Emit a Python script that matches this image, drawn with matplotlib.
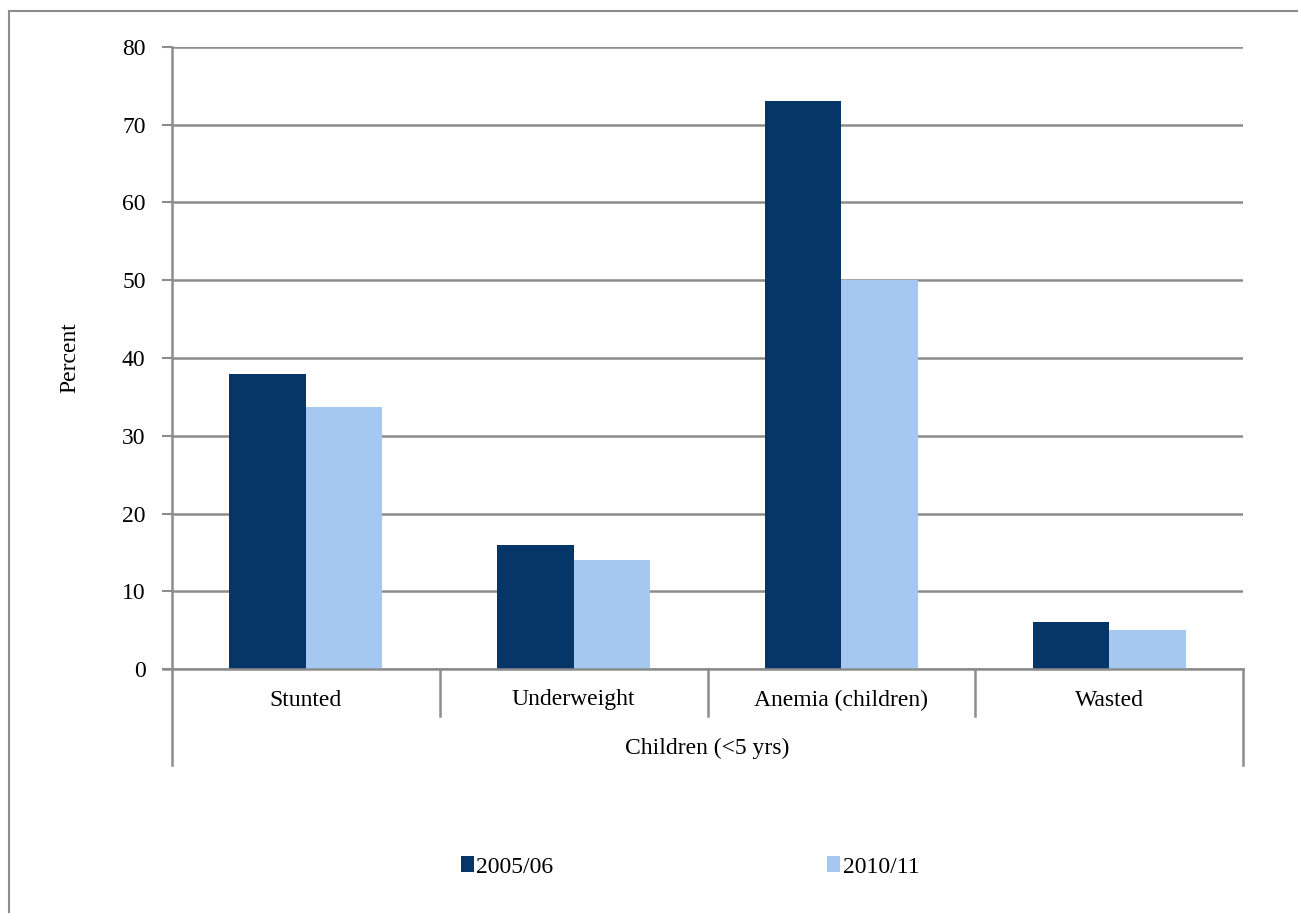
import matplotlib
matplotlib.use("Agg")
import matplotlib.pyplot as plt
import matplotlib.transforms as mtransforms
from matplotlib.patches import Patch
import numpy as np

categories = ["Stunted", "Underweight", "Anemia (children)", "Wasted"]
series_names = ["2005/06", "2010/11"]
values_2005 = [38, 16, 73, 6]
values_2010 = [33.7, 14, 50, 5]
group_label = "Children (<5 yrs)"
yticks = [0, 10, 20, 30, 40, 50, 60, 70, 80]

dark = "#063668"
light = "#A5C8F0"
grid_c = "#8c8c8c"
FS = 17

plt.rcParams["font.family"] = ["Liberation Serif", "DejaVu Serif"]

W, H = 1298, 913
fig = plt.figure(figsize=(W / 100, H / 100), dpi=100)
ax = fig.add_axes([172 / W, 1 - 669 / H, (1243 - 172) / W, (669 - 47) / H])

x = np.arange(len(categories))
w = 1 / 3.5
ax.bar(x - w / 2, values_2005, width=w, color=dark, zorder=3)
ax.bar(x + w / 2, values_2010, width=w, color=light, zorder=3)

ax.set_xlim(-0.5, len(categories) - 0.5)
ax.set_ylim(0, 80)
ax.set_yticks(yticks)
ax.set_yticklabels([str(t) for t in yticks], fontsize=FS)
ax.yaxis.grid(True, color=grid_c, linewidth=1.8, zorder=0)
ax.tick_params(axis="y", length=7, width=1.5, color=grid_c, pad=12)
ax.tick_params(axis="x", length=0)
ax.set_xticks([])
for s in ["top", "right", "bottom"]:
    ax.spines[s].set_visible(False)
ax.spines["left"].set_color(grid_c)
ax.spines["left"].set_linewidth(1.8)

ax.set_ylabel("Percent", fontsize=FS, labelpad=30)

# multi-level category axis
trans = mtransforms.blended_transform_factory(ax.transData, ax.transAxes)
y_cat = -(716 - 669) / 622
y_grp = -(765 - 669) / 622
lk = dict(color=grid_c, linewidth=1.8, clip_on=False, transform=trans, zorder=4)
ax.plot([-0.5 - 9 / 267.75, len(categories) - 0.5], [0, 0], **lk)
ax.plot([-0.5, -0.5], [0, y_grp], **lk)
ax.plot([len(categories) - 0.5, len(categories) - 0.5], [0, y_grp], **lk)
for b in np.arange(0.5, len(categories) - 0.5, 1):
    ax.plot([b, b], [0, y_cat], **lk)
for i, c in enumerate(categories):
    ax.text(i, -(700 - 669) / 622, c, transform=trans, ha="center", va="center", fontsize=FS)
ax.text((len(categories) - 1) / 2, -(748 - 669) / 622, group_label, transform=trans,
        ha="center", va="center", fontsize=FS)

# legend
handles = [Patch(facecolor=dark), Patch(facecolor=light)]
fig.legend(handles, series_names, loc="center", bbox_to_anchor=(690 / W, 1 - 867 / H),
           ncol=2, frameon=False, fontsize=FS, handlelength=0.55, handleheight=0.65,
           handletextpad=0.1, columnspacing=11.6)

# outer frame (left and top)
fig.add_artist(plt.Line2D([8.5 / W, 8.5 / W], [0, 1 - 11 / H], color=grid_c, linewidth=1.5,
                          transform=fig.transFigure))
fig.add_artist(plt.Line2D([8.5 / W, 1], [1 - 11 / H, 1 - 11 / H], color=grid_c, linewidth=1.5,
                          transform=fig.transFigure))

fig.savefig("out.png", dpi=100)
